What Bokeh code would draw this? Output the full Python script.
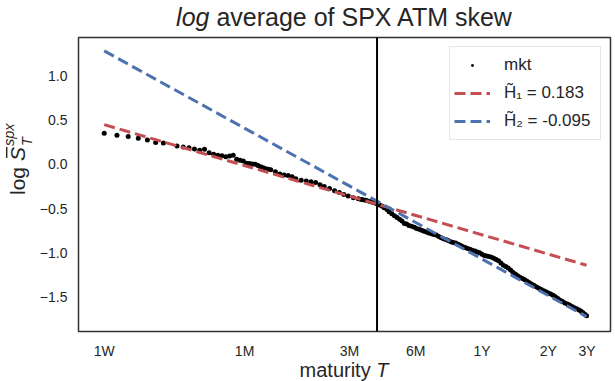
from bokeh.plotting import figure
from bokeh.layouts import column, row
from bokeh.models import Range1d, FixedTicker, Span, Legend, LegendItem, ColumnDataSource, Div
from bokeh.embed import file_html
from bokeh.resources import INLINE

# ---------------- data ----------------
mkt_days = [7, 8, 9, 10, 11, 12, 13, 15, 16, 17, 18, 19, 20, 21, 22, 23, 24, 25, 26, 27,
            28, 29, 30, 31, 32, 33, 34, 35, 36, 37, 38, 39, 40, 42, 44, 46, 48, 50, 52, 55,
            58, 61, 64, 67, 70, 74, 78, 82, 86, 90, 95,
            100, 103, 105, 108, 110, 113, 116, 119, 122, 125, 128, 131, 135, 138, 142, 146, 150, 154, 158, 162,
            166, 170, 175, 180, 184, 189, 194, 199, 204, 209, 215, 220, 226, 232, 238, 244, 250, 256, 263, 270,
            277, 284, 291, 298, 306, 314, 322, 330, 339, 347, 356, 365, 374, 383, 393, 403, 413, 423, 434, 445,
            456, 468, 480, 492, 504, 517, 530, 543, 557, 571, 585, 600, 615, 630, 646, 662, 679, 696, 713, 731,
            749, 768, 787, 807, 827, 848, 869, 891, 913, 936, 959, 983, 1008, 1030, 1050, 1070, 1090]
mkt_logskew = [0.351, 0.328, 0.313, 0.294, 0.275, 0.245, 0.241, 0.207, 0.196, 0.185, 0.173, 0.159, 0.170, 0.131, 0.113, 0.102, 0.095, 0.086, 0.094, 0.102,
               0.057, 0.045, 0.037, 0.011, 0.008, 0.003, 0.000, -0.015, -0.028, -0.040, -0.050, -0.057, -0.062, -0.085, -0.110, -0.120, -0.128, -0.140, -0.163, -0.180,
               -0.190, -0.198, -0.205, -0.232, -0.250, -0.275, -0.298, -0.320, -0.340, -0.357, -0.377,
               -0.390, -0.397, -0.402, -0.407, -0.412, -0.420, -0.428, -0.438, -0.450, -0.460, -0.472, -0.490, -0.510, -0.535, -0.560, -0.580, -0.600, -0.620, -0.640, -0.668,
               -0.675, -0.690, -0.700, -0.712, -0.725, -0.735, -0.745, -0.755, -0.765, -0.775, -0.785, -0.792, -0.800, -0.815, -0.830, -0.840, -0.850, -0.862, -0.875, -0.882,
               -0.890, -0.903, -0.915, -0.928, -0.940, -0.950, -0.960, -0.970, -0.980, -0.990, -1.000, -1.015, -1.030, -1.035, -1.040, -1.050, -1.060, -1.075, -1.090, -1.115,
               -1.140, -1.155, -1.170, -1.195, -1.220, -1.240, -1.260, -1.275, -1.290, -1.305, -1.320, -1.338, -1.355, -1.370, -1.385, -1.400, -1.415, -1.428, -1.440, -1.452,
               -1.465, -1.480, -1.495, -1.515, -1.535, -1.550, -1.565, -1.578, -1.590, -1.605, -1.620, -1.632, -1.645, -1.660, -1.675, -1.692, -1.710]

fit_days = [7, 1090]
fit1_logskew = [0.447, -1.140]   # H1 fit, short maturities
fit2_logskew = [1.280, -1.720]   # H2 fit, long maturities
H1 = 0.183
H2 = -0.095
split_T = 1.0 / 3.0

xtick_vals = [7 / 365, 1 / 12, 0.25, 0.5, 1.0, 2.0, 3.0]
xtick_labels = ["1W", "1M", "3M", "6M", "1Y", "2Y", "3Y"]
ytick_vals = [-1.5, -1.0, -0.5, 0.0, 0.5, 1.0]
ytick_labels = ["\u22121.5", "\u22121.0", "\u22120.5", "0.0", "0.5", "1.0"]

# ---------------- figure ----------------
FONT = "Liberation Sans"
TXT = "#262626"

p = figure(width=579, height=326, x_axis_type="log", output_backend="svg",
           toolbar_location=None, title=None,
           x_range=Range1d(10 ** -1.834, 10 ** 0.584),
           y_range=Range1d(-1.888, 1.431),
           min_border_left=42, min_border_right=5, min_border_top=2, min_border_bottom=30)
p.background_fill_color = "white"
p.border_fill_color = "white"
p.outline_line_color = "#333333"
p.outline_line_width = 1.5
p.xgrid.visible = False
p.ygrid.visible = False

for ax in (p.xaxis[0], p.yaxis[0]):
    ax.axis_line_color = None
    ax.major_tick_line_color = None
    ax.minor_tick_line_color = None
    ax.major_tick_out = 0
    ax.major_tick_in = 0
    ax.minor_tick_out = 0
    ax.minor_tick_in = 0
    ax.major_label_text_font = FONT
    ax.major_label_text_font_size = "14px"
    ax.major_label_text_color = TXT

p.xaxis.ticker = FixedTicker(ticks=xtick_vals, minor_ticks=[])
p.xaxis.major_label_overrides = {v: l for v, l in zip(xtick_vals, xtick_labels)}
p.xaxis.major_label_standoff = 11
p.yaxis.ticker = FixedTicker(ticks=ytick_vals, minor_ticks=[])
p.yaxis.major_label_overrides = {v: l for v, l in zip(ytick_vals, ytick_labels)}
p.yaxis.major_label_standoff = 11

mkt_src = ColumnDataSource(dict(T=[d / 365 for d in mkt_days], y=mkt_logskew))
fit_src = ColumnDataSource(dict(T=[d / 365 for d in fit_days], y1=fit1_logskew, y2=fit2_logskew))

sc = p.scatter("T", "y", source=mkt_src, marker="dot", size=20,
               fill_color="black", line_color="black")
l1 = p.line("T", "y1", source=fit_src, line_color="#C44E52", line_width=3, line_dash="11 5")
l2 = p.line("T", "y2", source=fit_src, line_color="#4C72B0", line_width=3, line_dash="11 5")

p.add_layout(Span(location=split_T, dimension="height", line_color="black", line_width=2))

legend = Legend(items=[
    LegendItem(label="mkt", renderers=[sc]),
    LegendItem(label="H\u0303\u2081 = %.3f" % H1, renderers=[l1]),
    LegendItem(label="H\u0303\u2082 = %.3f" % H2, renderers=[l2]),
], location="top_right")
legend.label_text_font = FONT
legend.label_text_font_size = "17px"
legend.label_text_color = TXT
legend.border_line_color = "#cccccc"
legend.border_line_width = 1
legend.background_fill_color = "white"
legend.background_fill_alpha = 0.85
legend.margin = 9
legend.padding = 4
legend.spacing = 0
legend.glyph_width = 36
legend.glyph_height = 28
legend.label_height = 28
legend.label_width = 92
legend.label_standoff = 14
p.add_layout(legend)

# ---------------- texts outside the frame (real text) ----------------
base = "font-family:'Liberation Sans',Arial,sans-serif;color:%s;white-space:nowrap;" % TXT

title_html = ('<div style="%s margin-left:78px;width:532px;text-align:center;'
              'font-size:25px;line-height:25px;padding-top:5px;">'
              '<i>log</i> average of SPX ATM skew</div>' % base)
title_div = Div(text=title_html, width=615, height=35, margin=0)

ylab_html = (
    '<svg xmlns="http://www.w3.org/2000/svg" width="36" height="326" style="display:block;overflow:visible">'
    '<g transform="translate(25,160) rotate(-90)" font-family="Liberation Sans, Arial, sans-serif" fill="%s">'
    '<text x="0" y="0" font-size="21">log</text>'
    '<text x="34" y="0" font-size="21" font-style="italic">S</text>'
    '<rect x="37" y="-19" width="11" height="1.4"/>'
    '<text x="49" y="6.5" font-size="14.5" font-style="italic">T</text>'
    '<text x="49" y="-11" font-size="14.5" font-style="italic">spx</text>'
    '</g></svg>' % TXT)
ylab_div = Div(text=ylab_html, width=36, height=326, margin=0)

xlab_html = ('<div style="%s margin-left:78px;width:532px;text-align:center;'
             'font-size:20px;line-height:18px;">maturity <i>T</i></div>' % base)
xlab_div = Div(text=xlab_html, width=615, height=20, margin=0)

layout = column(title_div, row(ylab_div, p, spacing=0), xlab_div, spacing=0)

open("out.html", "w").write(file_html(layout, INLINE))
